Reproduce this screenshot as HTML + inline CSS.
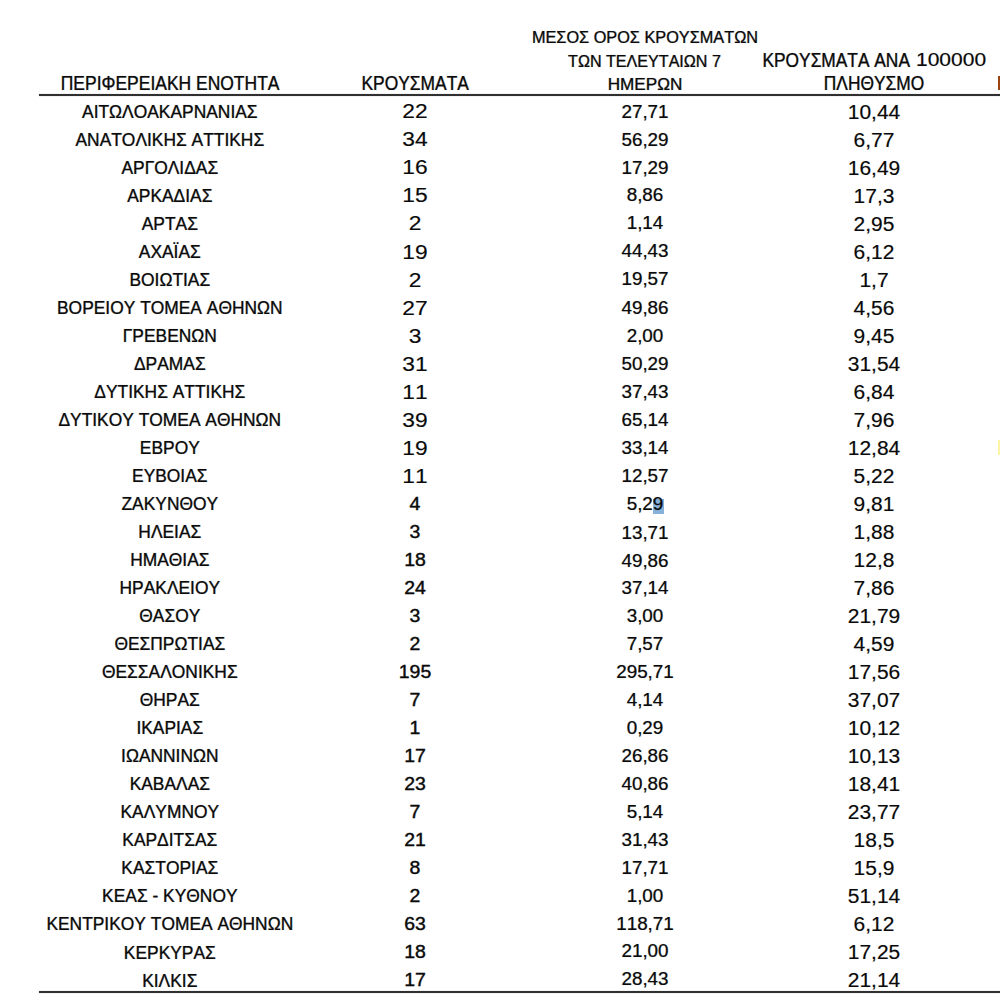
<!DOCTYPE html>
<html><head><meta charset="utf-8"><title>table</title>
<style>
html,body{margin:0;padding:0;background:#fff;}
body{font-kerning:none;font-variant-ligatures:none;width:1000px;height:1006px;position:relative;overflow:hidden;font-family:"Liberation Sans",sans-serif;color:#0a0a0a;}
.c,.h{-webkit-text-stroke:0.2px #0a0a0a;text-shadow:0 0 1px rgba(10,10,10,0.3);}
#w{position:absolute;left:0;top:0;width:1000px;height:1006px}
.hh{-webkit-text-stroke-width:0.2px;}
.h3{-webkit-text-stroke-width:0.22px;}
.c{position:absolute;width:400px;height:28px;line-height:28px;text-align:center;white-space:nowrap;}
.h{position:absolute;width:400px;text-align:center;white-space:nowrap;}
.ln{box-shadow:0 0 1px rgba(30,30,30,0.5);position:absolute;left:39px;width:961px;background:#303030;}
</style></head><body><div id="w">

<div class="h hh" style="left:-29.9px;top:68.5px;height:28px;line-height:28px;font-size:17.48px;transform:scaleY(1.18)">ΠΕΡΙΦΕΡΕΙΑΚΗ ΕΝΟΤΗΤΑ</div>
<div class="h hh" style="left:215.2px;top:68.5px;height:28px;line-height:28px;font-size:17.4px;transform:scaleY(1.18)">ΚΡΟΥΣΜΑΤΑ</div>
<div class="h h3" style="left:444.5px;top:23.3px;height:28px;line-height:28px;font-size:16.1px;transform:scale(1.012,1.05)">ΜΕΣΟΣ ΟΡΟΣ ΚΡΟΥΣΜΑΤΩΝ</div>
<div class="h h3" style="left:444.5px;top:47.2px;height:28px;line-height:28px;font-size:16.1px;transform:scale(1.0,1.05)">ΤΩΝ ΤΕΛΕΥΤΑΙΩΝ 7</div>
<div class="h h3" style="left:444.5px;top:69.8px;height:28px;line-height:28px;font-size:16.1px;transform:scale(1.065,1.05)">ΗΜΕΡΩΝ</div>
<div class="h hh" style="left:762.5px;width:auto;text-align:left;top:45.5px;height:28px;line-height:28px;font-size:17.33px;transform:scaleY(1.18)">ΚΡΟΥΣΜΑΤΑ ΑΝΑ</div>
<div class="h" style="left:915.5px;width:auto;text-align:left;top:45.5px;height:28px;line-height:28px;font-size:18.6px;transform:scale(1.13,1.03);transform-origin:0 50%;-webkit-text-stroke-width:0.05px">100000</div>
<div class="h hh" style="left:674px;top:69px;height:28px;line-height:28px;font-size:17.33px;transform:scaleY(1.18)">ΠΛΗΘΥΣΜΟ</div>
<div style="position:absolute;left:998px;top:75.5px;width:3px;height:14.5px;background:#9c4312"></div><div style="position:absolute;left:998px;top:440px;width:3px;height:15px;background:#fdf5a6"></div>
<div class="ln" style="top:93.7px;height:2.5px"></div>
<div class="ln" style="top:990.6px;height:2.5px"></div>
<div style="position:absolute;left:653px;top:498.6px;width:10.5px;height:15.2px;background:#86b2da"></div>
<div class="c" style="left:-30.20px;top:97.90px;font-size:17.4px;transform:scale(1.0,1.06);">ΑΙΤΩΛΟΑΚΑΡΝΑΝΙΑΣ</div>
<div class="c" style="left:215.00px;top:97.40px;font-size:20px;transform:scale(1.14,1.05);-webkit-text-stroke-width:0.15px;text-shadow:none;">22</div>
<div class="c" style="left:444.50px;top:98.10px;font-size:18.3px;transform:scale(1.03,1.0);-webkit-text-stroke-width:0.15px;">27,71</div>
<div class="c" style="left:674.00px;top:97.50px;font-size:19.8px;transform:scale(1.06,1.04);-webkit-text-stroke-width:0.12px;text-shadow:0 0 1px rgba(10,10,10,0.15);">10,44</div>
<div class="c" style="left:-30.20px;top:125.92px;font-size:17.4px;transform:scale(1.0,1.06);">ΑΝΑΤΟΛΙΚΗΣ ΑΤΤΙΚΗΣ</div>
<div class="c" style="left:215.00px;top:125.42px;font-size:20px;transform:scale(1.14,1.05);-webkit-text-stroke-width:0.15px;text-shadow:none;">34</div>
<div class="c" style="left:444.50px;top:126.12px;font-size:18.3px;transform:scale(1.03,1.0);-webkit-text-stroke-width:0.15px;">56,29</div>
<div class="c" style="left:674.00px;top:125.52px;font-size:19.8px;transform:scale(1.06,1.04);-webkit-text-stroke-width:0.12px;text-shadow:0 0 1px rgba(10,10,10,0.15);">6,77</div>
<div class="c" style="left:-30.20px;top:153.94px;font-size:17.4px;transform:scale(1.0,1.06);">ΑΡΓΟΛΙΔΑΣ</div>
<div class="c" style="left:215.00px;top:153.44px;font-size:20px;transform:scale(1.14,1.05);-webkit-text-stroke-width:0.15px;text-shadow:none;">16</div>
<div class="c" style="left:444.50px;top:154.14px;font-size:18.3px;transform:scale(1.03,1.0);-webkit-text-stroke-width:0.15px;">17,29</div>
<div class="c" style="left:674.00px;top:153.54px;font-size:19.8px;transform:scale(1.06,1.04);-webkit-text-stroke-width:0.12px;text-shadow:0 0 1px rgba(10,10,10,0.15);">16,49</div>
<div class="c" style="left:-30.20px;top:181.96px;font-size:17.4px;transform:scale(1.0,1.06);">ΑΡΚΑΔΙΑΣ</div>
<div class="c" style="left:215.00px;top:181.46px;font-size:20px;transform:scale(1.14,1.05);-webkit-text-stroke-width:0.15px;text-shadow:none;">15</div>
<div class="c" style="left:444.50px;top:181.16px;font-size:18.3px;transform:scale(1.03,1.0);-webkit-text-stroke-width:0.15px;">8,86</div>
<div class="c" style="left:674.00px;top:181.56px;font-size:19.8px;transform:scale(1.06,1.04);-webkit-text-stroke-width:0.12px;text-shadow:0 0 1px rgba(10,10,10,0.15);">17,3</div>
<div class="c" style="left:-30.20px;top:209.98px;font-size:17.4px;transform:scale(1.0,1.06);">ΑΡΤΑΣ</div>
<div class="c" style="left:215.00px;top:209.48px;font-size:20px;transform:scale(1.14,1.05);-webkit-text-stroke-width:0.15px;text-shadow:none;">2</div>
<div class="c" style="left:444.50px;top:209.18px;font-size:18.3px;transform:scale(1.03,1.0);-webkit-text-stroke-width:0.15px;">1,14</div>
<div class="c" style="left:674.00px;top:209.58px;font-size:19.8px;transform:scale(1.06,1.04);-webkit-text-stroke-width:0.12px;text-shadow:0 0 1px rgba(10,10,10,0.15);">2,95</div>
<div class="c" style="left:-30.20px;top:238.00px;font-size:17.4px;transform:scale(1.0,1.06);">ΑΧΑΪΑΣ</div>
<div class="c" style="left:215.00px;top:237.50px;font-size:20px;transform:scale(1.14,1.05);-webkit-text-stroke-width:0.15px;text-shadow:none;">19</div>
<div class="c" style="left:444.50px;top:237.20px;font-size:18.3px;transform:scale(1.03,1.0);-webkit-text-stroke-width:0.15px;">44,43</div>
<div class="c" style="left:674.00px;top:237.60px;font-size:19.8px;transform:scale(1.06,1.04);-webkit-text-stroke-width:0.12px;text-shadow:0 0 1px rgba(10,10,10,0.15);">6,12</div>
<div class="c" style="left:-30.20px;top:266.02px;font-size:17.4px;transform:scale(1.0,1.06);">ΒΟΙΩΤΙΑΣ</div>
<div class="c" style="left:215.00px;top:265.52px;font-size:20px;transform:scale(1.14,1.05);-webkit-text-stroke-width:0.15px;text-shadow:none;">2</div>
<div class="c" style="left:444.50px;top:265.22px;font-size:18.3px;transform:scale(1.03,1.0);-webkit-text-stroke-width:0.15px;">19,57</div>
<div class="c" style="left:674.00px;top:265.62px;font-size:19.8px;transform:scale(1.06,1.04);-webkit-text-stroke-width:0.12px;text-shadow:0 0 1px rgba(10,10,10,0.15);">1,7</div>
<div class="c" style="left:-30.20px;top:294.04px;font-size:17.4px;transform:scale(1.0,1.06);">ΒΟΡΕΙΟΥ ΤΟΜΕΑ ΑΘΗΝΩΝ</div>
<div class="c" style="left:215.00px;top:293.54px;font-size:20px;transform:scale(1.14,1.05);-webkit-text-stroke-width:0.15px;text-shadow:none;">27</div>
<div class="c" style="left:444.50px;top:293.94px;font-size:18.3px;transform:scale(1.03,1.0);-webkit-text-stroke-width:0.15px;">49,86</div>
<div class="c" style="left:674.00px;top:293.64px;font-size:19.8px;transform:scale(1.06,1.04);-webkit-text-stroke-width:0.12px;text-shadow:0 0 1px rgba(10,10,10,0.15);">4,56</div>
<div class="c" style="left:-30.20px;top:322.06px;font-size:17.4px;transform:scale(1.0,1.06);">ΓΡΕΒΕΝΩΝ</div>
<div class="c" style="left:215.00px;top:321.56px;font-size:20px;transform:scale(1.14,1.05);-webkit-text-stroke-width:0.15px;text-shadow:none;">3</div>
<div class="c" style="left:444.50px;top:321.96px;font-size:18.3px;transform:scale(1.03,1.0);-webkit-text-stroke-width:0.15px;">2,00</div>
<div class="c" style="left:674.00px;top:321.66px;font-size:19.8px;transform:scale(1.06,1.04);-webkit-text-stroke-width:0.12px;text-shadow:0 0 1px rgba(10,10,10,0.15);">9,45</div>
<div class="c" style="left:-30.20px;top:350.08px;font-size:17.4px;transform:scale(1.0,1.06);">ΔΡΑΜΑΣ</div>
<div class="c" style="left:215.00px;top:349.58px;font-size:20px;transform:scale(1.14,1.05);-webkit-text-stroke-width:0.15px;text-shadow:none;">31</div>
<div class="c" style="left:444.50px;top:349.98px;font-size:18.3px;transform:scale(1.03,1.0);-webkit-text-stroke-width:0.15px;">50,29</div>
<div class="c" style="left:674.00px;top:349.68px;font-size:19.8px;transform:scale(1.06,1.04);-webkit-text-stroke-width:0.12px;text-shadow:0 0 1px rgba(10,10,10,0.15);">31,54</div>
<div class="c" style="left:-30.20px;top:378.10px;font-size:17.4px;transform:scale(1.0,1.06);">ΔΥΤΙΚΗΣ ΑΤΤΙΚΗΣ</div>
<div class="c" style="left:215.00px;top:377.60px;font-size:20px;transform:scale(1.14,1.05);-webkit-text-stroke-width:0.15px;text-shadow:none;">11</div>
<div class="c" style="left:444.50px;top:378.00px;font-size:18.3px;transform:scale(1.03,1.0);-webkit-text-stroke-width:0.15px;">37,43</div>
<div class="c" style="left:674.00px;top:377.70px;font-size:19.8px;transform:scale(1.06,1.04);-webkit-text-stroke-width:0.12px;text-shadow:0 0 1px rgba(10,10,10,0.15);">6,84</div>
<div class="c" style="left:-30.20px;top:406.12px;font-size:17.4px;transform:scale(1.0,1.06);">ΔΥΤΙΚΟΥ ΤΟΜΕΑ ΑΘΗΝΩΝ</div>
<div class="c" style="left:215.00px;top:405.62px;font-size:20px;transform:scale(1.14,1.05);-webkit-text-stroke-width:0.15px;text-shadow:none;">39</div>
<div class="c" style="left:444.50px;top:406.02px;font-size:18.3px;transform:scale(1.03,1.0);-webkit-text-stroke-width:0.15px;">65,14</div>
<div class="c" style="left:674.00px;top:405.72px;font-size:19.8px;transform:scale(1.06,1.04);-webkit-text-stroke-width:0.12px;text-shadow:0 0 1px rgba(10,10,10,0.15);">7,96</div>
<div class="c" style="left:-30.20px;top:434.14px;font-size:17.4px;transform:scale(1.0,1.06);">ΕΒΡΟΥ</div>
<div class="c" style="left:215.00px;top:433.64px;font-size:20px;transform:scale(1.14,1.05);-webkit-text-stroke-width:0.15px;text-shadow:none;">19</div>
<div class="c" style="left:444.50px;top:434.04px;font-size:18.3px;transform:scale(1.03,1.0);-webkit-text-stroke-width:0.15px;">33,14</div>
<div class="c" style="left:674.00px;top:433.74px;font-size:19.8px;transform:scale(1.06,1.04);-webkit-text-stroke-width:0.12px;text-shadow:0 0 1px rgba(10,10,10,0.15);">12,84</div>
<div class="c" style="left:-30.20px;top:462.16px;font-size:17.4px;transform:scale(1.0,1.06);">ΕΥΒΟΙΑΣ</div>
<div class="c" style="left:215.00px;top:461.66px;font-size:20px;transform:scale(1.14,1.05);-webkit-text-stroke-width:0.15px;text-shadow:none;">11</div>
<div class="c" style="left:444.50px;top:462.06px;font-size:18.3px;transform:scale(1.03,1.0);-webkit-text-stroke-width:0.15px;">12,57</div>
<div class="c" style="left:674.00px;top:461.76px;font-size:19.8px;transform:scale(1.06,1.04);-webkit-text-stroke-width:0.12px;text-shadow:0 0 1px rgba(10,10,10,0.15);">5,22</div>
<div class="c" style="left:-30.20px;top:490.18px;font-size:17.4px;transform:scale(1.0,1.06);">ΖΑΚΥΝΘΟΥ</div>
<div class="c" style="left:215.00px;top:489.98px;font-size:18.0px;transform:scale(1.08,1.0);-webkit-text-stroke-width:0.3px;">4</div>
<div class="c" style="left:444.50px;top:490.48px;font-size:18.3px;transform:scale(1.03,1.0);-webkit-text-stroke-width:0.15px;">5,29</div>
<div class="c" style="left:674.00px;top:489.78px;font-size:19.8px;transform:scale(1.06,1.04);-webkit-text-stroke-width:0.12px;text-shadow:0 0 1px rgba(10,10,10,0.15);">9,81</div>
<div class="c" style="left:-30.20px;top:518.20px;font-size:17.4px;transform:scale(1.0,1.06);">ΗΛΕΙΑΣ</div>
<div class="c" style="left:215.00px;top:518.00px;font-size:18.0px;transform:scale(1.08,1.0);-webkit-text-stroke-width:0.3px;">3</div>
<div class="c" style="left:444.50px;top:518.50px;font-size:18.3px;transform:scale(1.03,1.0);-webkit-text-stroke-width:0.15px;">13,71</div>
<div class="c" style="left:674.00px;top:517.80px;font-size:19.8px;transform:scale(1.06,1.04);-webkit-text-stroke-width:0.12px;text-shadow:0 0 1px rgba(10,10,10,0.15);">1,88</div>
<div class="c" style="left:-30.20px;top:546.22px;font-size:17.4px;transform:scale(1.0,1.06);">ΗΜΑΘΙΑΣ</div>
<div class="c" style="left:215.00px;top:546.02px;font-size:18.0px;transform:scale(1.08,1.0);-webkit-text-stroke-width:0.3px;">18</div>
<div class="c" style="left:444.50px;top:546.52px;font-size:18.3px;transform:scale(1.03,1.0);-webkit-text-stroke-width:0.15px;">49,86</div>
<div class="c" style="left:674.00px;top:545.82px;font-size:19.8px;transform:scale(1.06,1.04);-webkit-text-stroke-width:0.12px;text-shadow:0 0 1px rgba(10,10,10,0.15);">12,8</div>
<div class="c" style="left:-30.20px;top:574.24px;font-size:17.4px;transform:scale(1.0,1.06);">ΗΡΑΚΛΕΙΟΥ</div>
<div class="c" style="left:215.00px;top:574.04px;font-size:18.0px;transform:scale(1.08,1.0);-webkit-text-stroke-width:0.3px;">24</div>
<div class="c" style="left:444.50px;top:574.04px;font-size:18.3px;transform:scale(1.03,1.0);-webkit-text-stroke-width:0.15px;">37,14</div>
<div class="c" style="left:674.00px;top:573.84px;font-size:19.8px;transform:scale(1.06,1.04);-webkit-text-stroke-width:0.12px;text-shadow:0 0 1px rgba(10,10,10,0.15);">7,86</div>
<div class="c" style="left:-30.20px;top:602.26px;font-size:17.4px;transform:scale(1.0,1.06);">ΘΑΣΟΥ</div>
<div class="c" style="left:215.00px;top:602.06px;font-size:18.0px;transform:scale(1.08,1.0);-webkit-text-stroke-width:0.3px;">3</div>
<div class="c" style="left:444.50px;top:602.06px;font-size:18.3px;transform:scale(1.03,1.0);-webkit-text-stroke-width:0.15px;">3,00</div>
<div class="c" style="left:674.00px;top:601.86px;font-size:19.8px;transform:scale(1.06,1.04);-webkit-text-stroke-width:0.12px;text-shadow:0 0 1px rgba(10,10,10,0.15);">21,79</div>
<div class="c" style="left:-30.20px;top:630.28px;font-size:17.4px;transform:scale(1.0,1.06);">ΘΕΣΠΡΩΤΙΑΣ</div>
<div class="c" style="left:215.00px;top:630.08px;font-size:18.0px;transform:scale(1.08,1.0);-webkit-text-stroke-width:0.3px;">2</div>
<div class="c" style="left:444.50px;top:630.08px;font-size:18.3px;transform:scale(1.03,1.0);-webkit-text-stroke-width:0.15px;">7,57</div>
<div class="c" style="left:674.00px;top:629.88px;font-size:19.8px;transform:scale(1.06,1.04);-webkit-text-stroke-width:0.12px;text-shadow:0 0 1px rgba(10,10,10,0.15);">4,59</div>
<div class="c" style="left:-30.20px;top:658.30px;font-size:17.4px;transform:scale(1.0,1.06);">ΘΕΣΣΑΛΟΝΙΚΗΣ</div>
<div class="c" style="left:215.00px;top:658.10px;font-size:18.0px;transform:scale(1.08,1.0);-webkit-text-stroke-width:0.3px;">195</div>
<div class="c" style="left:444.50px;top:658.10px;font-size:18.3px;transform:scale(1.03,1.0);-webkit-text-stroke-width:0.15px;">295,71</div>
<div class="c" style="left:674.00px;top:657.90px;font-size:19.8px;transform:scale(1.06,1.04);-webkit-text-stroke-width:0.12px;text-shadow:0 0 1px rgba(10,10,10,0.15);">17,56</div>
<div class="c" style="left:-30.20px;top:686.32px;font-size:17.4px;transform:scale(1.0,1.06);">ΘΗΡΑΣ</div>
<div class="c" style="left:215.00px;top:686.12px;font-size:18.0px;transform:scale(1.08,1.0);-webkit-text-stroke-width:0.3px;">7</div>
<div class="c" style="left:444.50px;top:685.52px;font-size:18.3px;transform:scale(1.03,1.0);-webkit-text-stroke-width:0.15px;">4,14</div>
<div class="c" style="left:674.00px;top:685.92px;font-size:19.8px;transform:scale(1.06,1.04);-webkit-text-stroke-width:0.12px;text-shadow:0 0 1px rgba(10,10,10,0.15);">37,07</div>
<div class="c" style="left:-30.20px;top:714.34px;font-size:17.4px;transform:scale(1.0,1.06);">ΙΚΑΡΙΑΣ</div>
<div class="c" style="left:215.00px;top:714.14px;font-size:18.0px;transform:scale(1.08,1.0);-webkit-text-stroke-width:0.3px;">1</div>
<div class="c" style="left:444.50px;top:713.54px;font-size:18.3px;transform:scale(1.03,1.0);-webkit-text-stroke-width:0.15px;">0,29</div>
<div class="c" style="left:674.00px;top:713.94px;font-size:19.8px;transform:scale(1.06,1.04);-webkit-text-stroke-width:0.12px;text-shadow:0 0 1px rgba(10,10,10,0.15);">10,12</div>
<div class="c" style="left:-30.20px;top:742.36px;font-size:17.4px;transform:scale(1.0,1.06);">ΙΩΑΝΝΙΝΩΝ</div>
<div class="c" style="left:215.00px;top:742.16px;font-size:18.0px;transform:scale(1.08,1.0);-webkit-text-stroke-width:0.3px;">17</div>
<div class="c" style="left:444.50px;top:741.56px;font-size:18.3px;transform:scale(1.03,1.0);-webkit-text-stroke-width:0.15px;">26,86</div>
<div class="c" style="left:674.00px;top:741.96px;font-size:19.8px;transform:scale(1.06,1.04);-webkit-text-stroke-width:0.12px;text-shadow:0 0 1px rgba(10,10,10,0.15);">10,13</div>
<div class="c" style="left:-30.20px;top:770.38px;font-size:17.4px;transform:scale(1.0,1.06);">ΚΑΒΑΛΑΣ</div>
<div class="c" style="left:215.00px;top:770.18px;font-size:18.0px;transform:scale(1.08,1.0);-webkit-text-stroke-width:0.3px;">23</div>
<div class="c" style="left:444.50px;top:769.58px;font-size:18.3px;transform:scale(1.03,1.0);-webkit-text-stroke-width:0.15px;">40,86</div>
<div class="c" style="left:674.00px;top:769.98px;font-size:19.8px;transform:scale(1.06,1.04);-webkit-text-stroke-width:0.12px;text-shadow:0 0 1px rgba(10,10,10,0.15);">18,41</div>
<div class="c" style="left:-30.20px;top:798.40px;font-size:17.4px;transform:scale(1.0,1.06);">ΚΑΛΥΜΝΟΥ</div>
<div class="c" style="left:215.00px;top:798.20px;font-size:18.0px;transform:scale(1.08,1.0);-webkit-text-stroke-width:0.3px;">7</div>
<div class="c" style="left:444.50px;top:797.60px;font-size:18.3px;transform:scale(1.03,1.0);-webkit-text-stroke-width:0.15px;">5,14</div>
<div class="c" style="left:674.00px;top:798.00px;font-size:19.8px;transform:scale(1.06,1.04);-webkit-text-stroke-width:0.12px;text-shadow:0 0 1px rgba(10,10,10,0.15);">23,77</div>
<div class="c" style="left:-30.20px;top:826.42px;font-size:17.4px;transform:scale(1.0,1.06);">ΚΑΡΔΙΤΣΑΣ</div>
<div class="c" style="left:215.00px;top:826.22px;font-size:18.0px;transform:scale(1.08,1.0);-webkit-text-stroke-width:0.3px;">21</div>
<div class="c" style="left:444.50px;top:825.62px;font-size:18.3px;transform:scale(1.03,1.0);-webkit-text-stroke-width:0.15px;">31,43</div>
<div class="c" style="left:674.00px;top:826.02px;font-size:19.8px;transform:scale(1.06,1.04);-webkit-text-stroke-width:0.12px;text-shadow:0 0 1px rgba(10,10,10,0.15);">18,5</div>
<div class="c" style="left:-30.20px;top:854.44px;font-size:17.4px;transform:scale(1.0,1.06);">ΚΑΣΤΟΡΙΑΣ</div>
<div class="c" style="left:215.00px;top:854.24px;font-size:18.0px;transform:scale(1.08,1.0);-webkit-text-stroke-width:0.3px;">8</div>
<div class="c" style="left:444.50px;top:853.64px;font-size:18.3px;transform:scale(1.03,1.0);-webkit-text-stroke-width:0.15px;">17,71</div>
<div class="c" style="left:674.00px;top:854.04px;font-size:19.8px;transform:scale(1.06,1.04);-webkit-text-stroke-width:0.12px;text-shadow:0 0 1px rgba(10,10,10,0.15);">15,9</div>
<div class="c" style="left:-30.20px;top:882.46px;font-size:17.4px;transform:scale(1.0,1.06);">ΚΕΑΣ - ΚΥΘΝΟΥ</div>
<div class="c" style="left:215.00px;top:882.26px;font-size:18.0px;transform:scale(1.08,1.0);-webkit-text-stroke-width:0.3px;">2</div>
<div class="c" style="left:444.50px;top:882.16px;font-size:18.3px;transform:scale(1.03,1.0);-webkit-text-stroke-width:0.15px;">1,00</div>
<div class="c" style="left:674.00px;top:882.06px;font-size:19.8px;transform:scale(1.06,1.04);-webkit-text-stroke-width:0.12px;text-shadow:0 0 1px rgba(10,10,10,0.15);">51,14</div>
<div class="c" style="left:-30.20px;top:910.48px;font-size:17.4px;transform:scale(1.0,1.06);">ΚΕΝΤΡΙΚΟΥ ΤΟΜΕΑ ΑΘΗΝΩΝ</div>
<div class="c" style="left:215.00px;top:910.28px;font-size:18.0px;transform:scale(1.08,1.0);-webkit-text-stroke-width:0.3px;">63</div>
<div class="c" style="left:444.50px;top:910.18px;font-size:18.3px;transform:scale(1.03,1.0);-webkit-text-stroke-width:0.15px;">118,71</div>
<div class="c" style="left:674.00px;top:910.08px;font-size:19.8px;transform:scale(1.06,1.04);-webkit-text-stroke-width:0.12px;text-shadow:0 0 1px rgba(10,10,10,0.15);">6,12</div>
<div class="c" style="left:-30.20px;top:938.50px;font-size:17.4px;transform:scale(1.0,1.06);">ΚΕΡΚΥΡΑΣ</div>
<div class="c" style="left:215.00px;top:938.30px;font-size:18.0px;transform:scale(1.08,1.0);-webkit-text-stroke-width:0.3px;">18</div>
<div class="c" style="left:444.50px;top:936.70px;font-size:18.3px;transform:scale(1.03,1.0);-webkit-text-stroke-width:0.15px;">21,00</div>
<div class="c" style="left:674.00px;top:938.10px;font-size:19.8px;transform:scale(1.06,1.04);-webkit-text-stroke-width:0.12px;text-shadow:0 0 1px rgba(10,10,10,0.15);">17,25</div>
<div class="c" style="left:-30.20px;top:966.52px;font-size:17.4px;transform:scale(1.0,1.06);">ΚΙΛΚΙΣ</div>
<div class="c" style="left:215.00px;top:966.32px;font-size:18.0px;transform:scale(1.08,1.0);-webkit-text-stroke-width:0.3px;">17</div>
<div class="c" style="left:444.50px;top:964.72px;font-size:18.3px;transform:scale(1.03,1.0);-webkit-text-stroke-width:0.15px;">28,43</div>
<div class="c" style="left:674.00px;top:966.12px;font-size:19.8px;transform:scale(1.06,1.04);-webkit-text-stroke-width:0.12px;text-shadow:0 0 1px rgba(10,10,10,0.15);">21,14</div>
</div></body></html>
